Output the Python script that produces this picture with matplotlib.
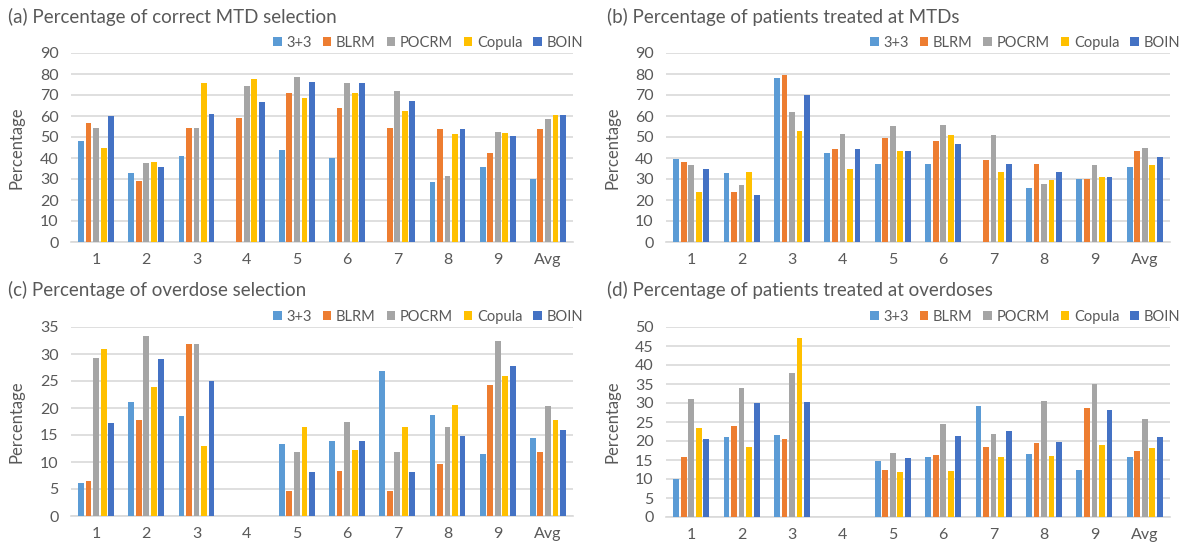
""" Grouped bar charts comparing dose-finding designs across scenarios """
import matplotlib
matplotlib.use('Agg')
import matplotlib.pyplot as plt
import numpy as np

plt.rcParams['font.family'] = ['Lato', 'DejaVu Sans']

scenarios = ['1', '2', '3', '4', '5', '6', '7', '8', '9', 'Avg']
designs = ['3+3', 'BLRM', 'POCRM', 'Copula', 'BOIN']
colors = ['#5B9BD5', '#ED7D31', '#A5A5A5', '#FFC000', '#4472C4']

# (a) correct MTD selection
mtd_sel_33 = [48, 33, 41.1, 0, 44, 40, 0, 28.6, 35.7, 30]
mtd_sel_blrm = [56.7, 29.2, 54.4, 59.2, 71, 63.8, 54.4, 54, 42.5, 54]
mtd_sel_pocrm = [54.4, 37.6, 54.4, 74.3, 78.6, 75.5, 72, 31.6, 52.4, 58.7]
mtd_sel_copula = [45, 38.2, 75.5, 77.8, 68.7, 71, 62.2, 51.4, 51.9, 60.3]
mtd_sel_boin = [60.2, 35.6, 60.8, 66.7, 76.3, 75.5, 67.3, 54, 50.6, 60.6]

# (b) patients treated at MTDs
mtd_pat_33 = [39.4, 32.9, 78.3, 42.5, 37, 37.3, 0, 25.6, 29.8, 35.7]
mtd_pat_blrm = [38.3, 23.7, 79.4, 44.5, 49.5, 48, 39.2, 37.3, 29.8, 43.3]
mtd_pat_pocrm = [36.7, 27.1, 62.1, 51.5, 55.2, 55.7, 51, 27.8, 36.8, 44.8]
mtd_pat_copula = [23.7, 33.5, 52.9, 34.8, 43.3, 50.8, 33.5, 29.7, 30.8, 36.8]
mtd_pat_boin = [35, 22.2, 69.8, 44.2, 43.3, 46.8, 37.3, 33.5, 31.1, 40.3]

# (c) overdose selection
od_sel_33 = [6.2, 21.2, 18.5, 0, 13.3, 13.8, 26.8, 18.7, 11.5, 14.4]
od_sel_blrm = [6.5, 17.7, 31.9, 0, 4.7, 8.3, 4.7, 9.6, 24.3, 11.9]
od_sel_pocrm = [29.2, 33.3, 31.9, 0, 11.8, 17.5, 11.8, 16.5, 32.4, 20.4]
od_sel_copula = [31, 23.8, 13, 0, 16.4, 12.3, 16.4, 20.5, 25.9, 17.7]
od_sel_boin = [17.3, 29.1, 25, 0, 8.1, 13.8, 8.1, 14.8, 27.7, 16]

# (d) patients treated at overdoses
od_pat_33 = [10, 21, 21.7, 0, 14.8, 15.8, 29.2, 16.6, 12.5, 15.8]
od_pat_blrm = [15.9, 23.9, 20.6, 0, 12.5, 16.2, 18.3, 19.6, 28.6, 17.3]
od_pat_pocrm = [31.1, 33.9, 38, 0, 16.9, 24.6, 21.8, 30.4, 34.9, 25.9]
od_pat_copula = [23.3, 18.3, 47, 0, 11.8, 12.1, 15.8, 16.1, 18.9, 18.1]
od_pat_boin = [20.4, 30, 30.3, 0, 15.5, 21.3, 22.7, 19.7, 28.2, 21]

panels = [
    ('(a) Percentage of correct MTD selection',
     [mtd_sel_33, mtd_sel_blrm, mtd_sel_pocrm, mtd_sel_copula, mtd_sel_boin], 90, 10),
    ('(b) Percentage of patients treated at MTDs',
     [mtd_pat_33, mtd_pat_blrm, mtd_pat_pocrm, mtd_pat_copula, mtd_pat_boin], 90, 10),
    ('(c) Percentage of overdose selection',
     [od_sel_33, od_sel_blrm, od_sel_pocrm, od_sel_copula, od_sel_boin], 35, 5),
    ('(d) Percentage of patients treated at overdoses',
     [od_pat_33, od_pat_blrm, od_pat_pocrm, od_pat_copula, od_pat_boin], 50, 5),
]

W, H = 1191, 544
fig = plt.figure(figsize=(W / 100, H / 100), dpi=100)

# pixel boxes of each plot area: left, right, top, bottom
boxes = [(71, 573, 53, 242), (666, 1170, 53, 242),
         (71, 573, 327, 516), (666, 1170, 327, 517)]
title_pos = [(8, 17), (607, 17), (8, 290), (607, 290)]
legend_right = [583, 1180]
ylabel_x = [25, 620]

text_col = '#595959'
grid_col = '#D9D9D9'
x = np.arange(len(scenarios))
step = 0.15
width = 0.115

for i, (title, series, ymax, ystep) in enumerate(panels):
    l, r, t, b = boxes[i]
    ax = fig.add_axes([l / W, 1 - b / H, (r - l) / W, (b - t) / H])
    for j, vals in enumerate(series):
        ax.bar(x + (j - 2) * step, vals, width, color=colors[j],
               label=designs[j], zorder=3)
    ax.set_xlim(-0.5, len(scenarios) - 0.5)
    ax.set_ylim(0, ymax)
    ax.set_yticks(np.arange(0, ymax + 1, ystep))
    ax.set_xticks(x)
    ax.set_xticklabels(scenarios)
    ax.yaxis.grid(True, color=grid_col, linewidth=1.2, zorder=0)
    ax.set_axisbelow(True)
    for side in ['top', 'right', 'left']:
        ax.spines[side].set_visible(False)
    ax.spines['bottom'].set_color(grid_col)
    ax.spines['bottom'].set_linewidth(1.2)
    ax.tick_params(axis='both', length=0, colors=text_col, labelsize=11.5)
    ax.tick_params(axis='x', pad=8)
    ax.tick_params(axis='y', pad=9)
    ax.set_ylabel('Percentage', color=text_col, fontsize=12)
    ax.yaxis.set_label_coords((ylabel_x[i % 2] - l) / (r - l), 0.5)

    leg_x = (legend_right[i % 2] - l) / (r - l)
    leg = ax.legend(loc='center right', bbox_to_anchor=(leg_x, 1 + 10 / (b - t)),
                    ncol=5, frameon=False, fontsize=10.5, handlelength=0.6,
                    handleheight=0.6, handletextpad=0.3, columnspacing=0.75,
                    borderpad=0, borderaxespad=0)
    for txt in leg.get_texts():
        txt.set_color(text_col)

    tx, ty = title_pos[i]
    fig.text(tx / W, 1 - ty / H, title, color=text_col, fontsize=13.5,
             ha='left', va='center')

fig.savefig('out.png', dpi=100, facecolor='white')
